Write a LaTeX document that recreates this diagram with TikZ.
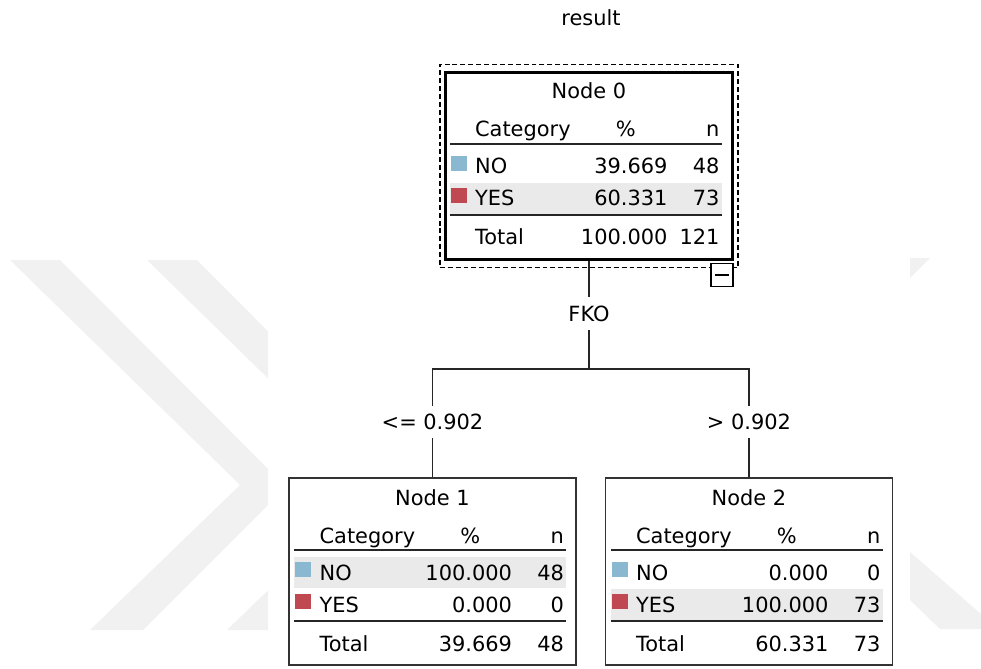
\documentclass[tikz,border=0pt]{standalone}
\usepackage{fontspec}
\setmainfont{DejaVu Sans}
\usepackage{tikz}
\usetikzlibrary{positioning,calc,fit}
\definecolor{spssblue}{RGB}{138,184,208}
\definecolor{spssred}{RGB}{192,72,80}
\definecolor{rowgray}{RGB}{234,234,234}
\definecolor{markgray}{RGB}{241,241,241}

% one category table inside a tree box:
% #1 box, #2 title, #3-#8 values (NO %, n, YES %, n, Total %, n), #9 offset of the shaded row
\newcommand{\catrows}[9]{%
  \fill[rowgray] ($(#1.north west)+(6,#9)$) rectangle +(272,31);
  \fill[spssblue] ($(#1.north west)+(7,85)$) rectangle +(16,15);
  \fill[spssred] ($(#1.north west)+(7,117)$) rectangle +(16,15);
  \draw[tabrule] ($(#1.north west)+(6,73)$) -- +(272,0);
  \draw[tabrule] ($(#1.north west)+(6,144)$) -- +(272,0);
  \node[cell, anchor=base] (#1t) at ($(#1.north)+(0,28)$) {#2};
  \node[cell, anchor=base west] (#1h) at ($(#1.north west)+(31,66)$) {Category};
  \node[cell, anchor=base] (#1p) at ($(#1.north west)+(182,66)$) {\%};
  \node[cell, anchor=base east] (#1n) at ($(#1.north west)+(276,66)$) {n};
  \foreach \lab/\pct/\cnt/\yb [count=\i] in {NO/#3/#4/103, YES/#5/#6/135, Total/#7/#8/174} {
    \node[cell, anchor=base west] (#1a\i) at ($(#1.north west)+(31,\yb)$) {\lab};
    \node[cell, anchor=base east] (#1b\i) at ($(#1.north west)+(224,\yb)$) {\pct};
    \node[cell, anchor=base east] (#1c\i) at ($(#1.north west)+(276,\yb)$) {\cnt};
  }%
}

\begin{document}
\begin{tikzpicture}[x=0.02cm, y=-0.02cm, font=\fontsize{11.9}{14}\selectfont,
  branch/.style={line width=0.03cm, black!85},
  catbox/.style={draw=black!80, line width=0.03cm, minimum width=5.74cm, minimum height=3.74cm, inner sep=0pt},
  cell/.style={inner sep=0pt},
  tabrule/.style={line width=0.04cm, black!85},
  splitlabel/.style={inner xsep=0.04cm, inner ysep=0.16cm},
  dashbox/.style={draw=black, line width=0.03cm, dash pattern=on 2.8pt off 1.7pt, inner xsep=0.08cm, inner ysep=0.13cm}]
  \useasboundingbox (0,0) rectangle (981,669);

  % faint watermark behind the tree
  \begin{scope}
    \clip (0,0) rectangle (268,669);
    \fill[markgray] (10,260) -- (60,260) -- (286,487) -- (143,630) -- (90,630) -- (240,485) -- cycle;
    \fill[markgray] (147,260) -- (197,260) -- (423,487) -- (280,630) -- (227,630) -- (377,485) -- cycle;
  \end{scope}
  \fill[markgray] (910,258) -- (930,258) -- (910,278) -- cycle;
  \fill[markgray] (910,552) -- (981,614) -- (981,629) -- (940,629) -- (910,600) -- cycle;

  \node[cell, anchor=base] (title) at (591,26) {result};

  % root
  \node[catbox, draw=black, line width=0.07cm] (n0) at (589,166) {};
  \node[dashbox, fit=(n0)] (sel) {};
  \node[draw=black, line width=0.025cm, minimum width=0.44cm, minimum height=0.46cm, inner sep=0pt, fill=white] (fold) at (722,275) {};
  \draw[line width=0.03cm] ($(fold.center)+(-7,0)$) -- +(14,0);
  \catrows{n0}{Node 0}{39.669}{48}{60.331}{73}{100.000}{121}{112}

  % split on FKO
  \node[splitlabel] (split) at (589,313.5) {FKO};
  \coordinate (fork) at (589,369);
  \node[splitlabel] (lo) at (432.5,422) {<= 0.902};
  \node[splitlabel] (hi) at (749,422) {> 0.902};
  \draw[branch] (n0) -- (split);
  \draw[branch] (split) -- (fork) -| (lo);
  \draw[branch] (fork) -| (hi);

  % leaves
  \node[catbox] (n1) at (432.5,571.5) {};
  \node[catbox] (n2) at (749,571.5) {};
  \draw[branch] (lo) -- (n1);
  \draw[branch] (hi) -- (n2);
  \catrows{n1}{Node 1}{100.000}{48}{0.000}{0}{39.669}{48}{80}
  \catrows{n2}{Node 2}{0.000}{0}{100.000}{73}{60.331}{73}{112}
\end{tikzpicture}
\end{document}
